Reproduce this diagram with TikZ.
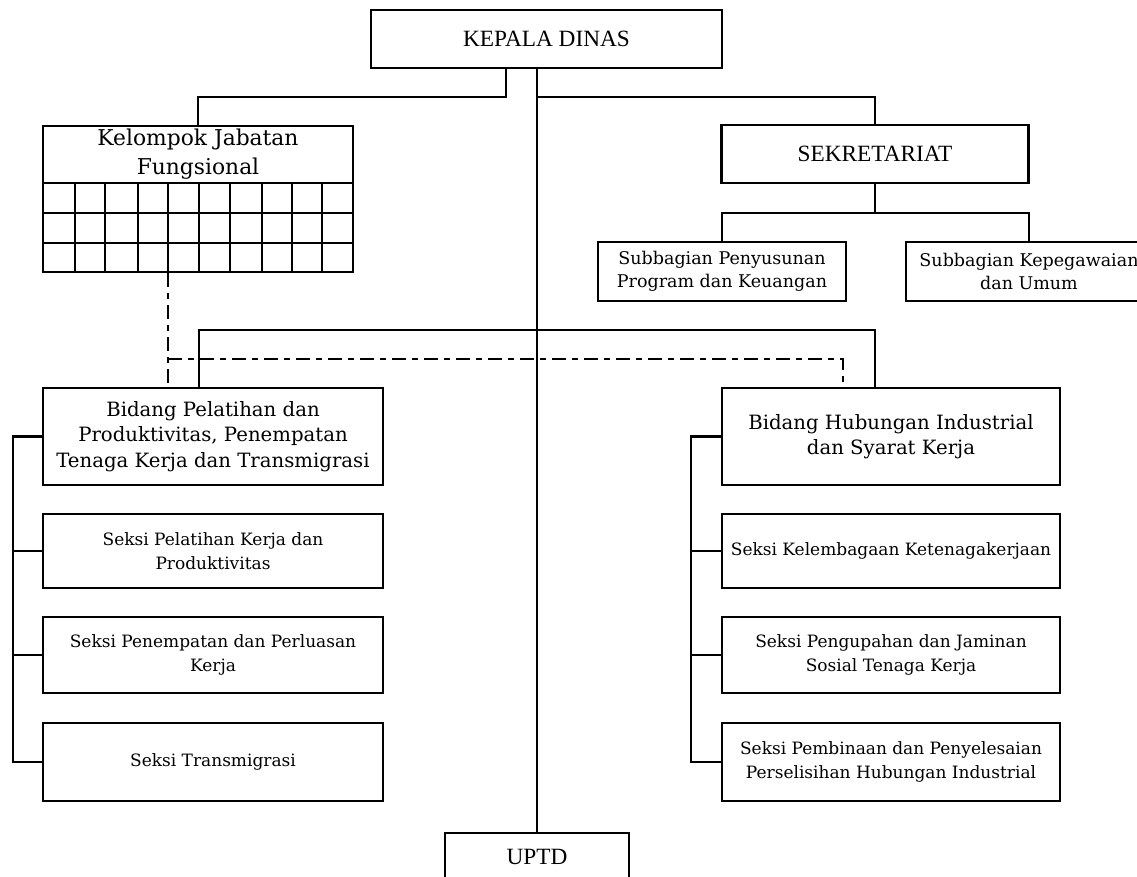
\documentclass[tikz,border=0pt]{standalone}
\usepackage{fontspec}
\newfontfamily\bk{DejaVu Serif}
\newfontfamily\tm{Liberation Serif}
\begin{document}
\begin{tikzpicture}[x=1pt,y=-1pt,
  ln/.style={line width=2.2pt},
  dd/.style={line width=2.2pt, dash pattern=on 14pt off 6pt on 6pt off 6pt},
  box/.style={draw, line width=2.2pt, inner sep=0pt, align=center},
  big/.style={box, font=\tm\fontsize{23.3}{27}\selectfont},
  mid/.style={box, font=\bk\fontsize{19.7}{25.5}\selectfont},
  sml/.style={box, font=\bk\fontsize{17}{23.5}\selectfont},
  sub/.style={box, font=\bk\fontsize{17.5}{23}\selectfont}]
\useasboundingbox (0,0) rectangle (1137,876);
% boxes
\node[big, minimum width=351pt, minimum height=58pt] (kd) at (546.5,39) {KEPALA DINAS};
\node[box, font=\bk\fontsize{21.8}{29}\selectfont, minimum width=310pt, minimum height=57pt] (kjf) at (198,154.5) {Kelompok Jabatan\\Fungsional};
\node[box, minimum width=310pt, minimum height=89pt] (grid) at (198,227.5) {};
\node[big, minimum width=307pt, minimum height=58pt] (sek) at (875,154) {SEKRETARIAT};
\node[sub, minimum width=248pt, minimum height=59pt] (sub1) at (722,271.5) {Subbagian Penyusunan\\Program dan Keuangan};
\node[sub, minimum width=246pt, minimum height=59pt] (sub2) at (1029,271.5) {Subbagian Kepegawaian\\dan Umum};
\node[mid, minimum width=340pt, minimum height=97pt] (bp) at (213,436.5) {Bidang Pelatihan dan\\Produktivitas, Penempatan\\Tenaga Kerja dan Transmigrasi};
\node[mid, minimum width=338pt, minimum height=97pt] (bh) at (891,436.5) {Bidang Hubungan Industrial\\dan Syarat Kerja};
\node[sml, minimum width=340pt, minimum height=74pt] (l1) at (213,551) {Seksi Pelatihan Kerja dan\\Produktivitas};
\node[sml, minimum width=340pt, minimum height=76pt] (l2) at (213,655) {Seksi Penempatan dan Perluasan\\Kerja};
\node[sml, minimum width=340pt, minimum height=78pt] (l3) at (213,762) {Seksi Transmigrasi};
\node[sml, minimum width=338pt, minimum height=74pt] (r1) at (891,551) {Seksi Kelembagaan Ketenagakerjaan};
\node[sml, minimum width=338pt, minimum height=76pt] (r2) at (891,655) {Seksi Pengupahan dan Jaminan\\Sosial Tenaga Kerja};
\node[sml, minimum width=338pt, minimum height=78pt] (r3) at (891,762) {Seksi Pembinaan dan Penyelesaian\\Perselisihan Hubungan Industrial};
\node[big, minimum width=184pt, minimum height=47pt] (uptd) at (537,856.5) {UPTD};
% grid
\foreach \x in {75,105,138,168,199,230,262,292,322}
  \draw[ln] (grid.north -| \x,0) -- (grid.south -| \x,0);
\foreach \y in {213,243}
  \draw[ln] (grid.west |- 0,\y) -- (grid.east |- 0,\y);
% coordinates
\coordinate (j1) at (506,97);
\coordinate (j2) at (537,97);
\coordinate (hs) at (875,213);
\coordinate (h2) at (537,330);
\coordinate (dd1) at (168,359);
\coordinate (dd2) at (843,359);
\coordinate (ls) at (13,0);
\coordinate (rs) at (691,0);
% connectors
\draw[ln] (kd.south -| j1) -- (j1) -| (kjf.north);
\draw[ln] (kd.south -| uptd.north) -- (uptd.north);
\draw[ln] (j2) -| (sek.north);
\draw[ln] (sek.south) -- (hs);
\draw[ln] (sub1.north) |- (hs) -| (sub2.north);
\draw[ln] ([xshift=-14pt]bp.north) |- (h2) -| ([xshift=-16pt]bh.north);
\draw[dd] (grid.south -| dd1) -- (bp.north -| dd1);
\draw[dd] (dd1) -- (dd2) -- (bh.north -| dd2);
% left spine
\draw[ln] (bp.west) -- (bp.west -| ls) -- (l3.west -| ls) -- (l3.west);
\draw[ln] (l1.west) -- (l1.west -| ls);
\draw[ln] (l2.west) -- (l2.west -| ls);
% right spine
\draw[ln] (bh.west) -- (bh.west -| rs) -- (r3.west -| rs) -- (r3.west);
\draw[ln] (r1.west) -- (r1.west -| rs);
\draw[ln] (r2.west) -- (r2.west -| rs);
\end{tikzpicture}
\end{document}
